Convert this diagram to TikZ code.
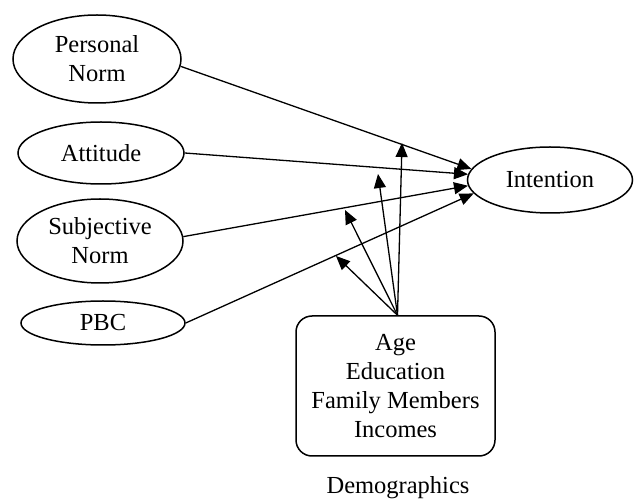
\documentclass[tikz,border=0pt]{standalone}
\usepackage{fontspec}
\setmainfont{Liberation Serif}
\usetikzlibrary{shapes.geometric,arrows.meta}
\begin{document}
\begin{tikzpicture}[x=1pt,y=-1pt,
  every node/.style={font=\fontsize{24.5}{29}\selectfont},
  construct/.style={draw,ellipse,line width=1.5pt,inner sep=0pt,align=center},
  demobox/.style={draw,rectangle,rounded corners=16pt,line width=1.5pt,inner sep=0pt,align=center,minimum width=199pt,minimum height=140pt},
  arr/.style={line width=1.3pt,-{Triangle[length=14pt,width=12pt]}},
  plain/.style={inner sep=0pt}]
\useasboundingbox (0,0) rectangle (635,502);
\node[construct,minimum width=168pt,minimum height=88pt] (pn) at (97,59) {Personal\\Norm};
\node[construct,minimum width=166pt,minimum height=62pt] (att) at (101,153) {Attitude};
\node[construct,minimum width=166pt,minimum height=84pt] (sn) at (100,241) {Subjective\\Norm};
\node[construct,minimum width=164pt,minimum height=44pt] (pbc) at (103,323) {PBC};
\node[construct,minimum width=165pt,minimum height=66pt] (int) at (550,180) {Intention};
\node[demobox] (box) at (395.5,386) {Age\\Education\\Family Members\\Incomes};
\node[plain] (demo) at (398,488) {Demographics};
\draw[arr] (pn.-5) -- (int.172);
\draw[arr] (att.east) -- (int.176.5);
\draw[arr] (sn.3) -- (int.184.5);
\draw[arr] (pbc.east) -- (int.190);
\coordinate (m1) at (402,143);
\coordinate (m2) at (378,174);
\coordinate (m3) at (345,210);
\coordinate (m4) at (336,256);
\draw[arr] ([xshift=2pt]box.north) -- (m1);
\draw[arr] ([xshift=2pt]box.north) -- (m2);
\draw[arr] ([xshift=2pt]box.north) -- (m3);
\draw[arr] ([xshift=2pt]box.north) -- (m4);
\end{tikzpicture}
\end{document}
